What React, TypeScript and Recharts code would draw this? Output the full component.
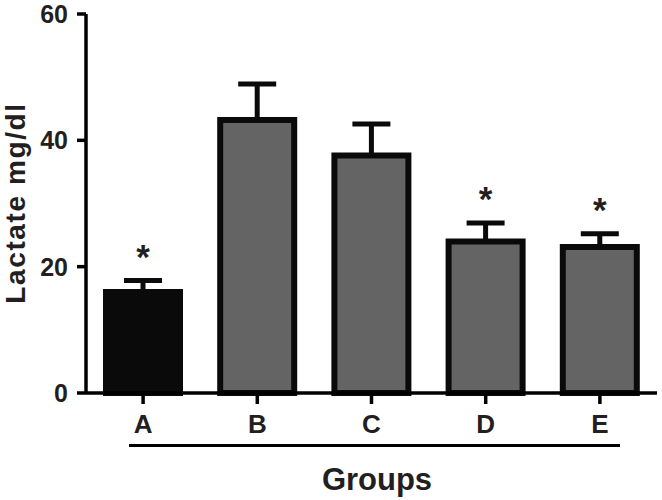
import { Bar, BarChart, Cell, ErrorBar, LabelList, XAxis, YAxis } from 'recharts'

const groups = ['A', 'B', 'C', 'D', 'E']
const lactate = [16.0, 43.2, 37.6, 24.0, 23.1]
const sem = [1.8, 5.7, 5.0, 2.9, 2.1]
const stars = ['*', '', '', '*', '*']
const fills = ['#0a0a0a', '#646464', '#646464', '#646464', '#646464']
const yTicks = [0, 20, 40, 60]

const data = groups.map((group, i) => ({
  group,
  lactate: lactate[i],
  err: [0, sem[i]],
  star: stars[i],
  sem: sem[i],
}))

const font = '"Liberation Sans", Arial, sans-serif'
const ink = '#231f20'

function StarLabel(props: any) {
  const { x, y, width, height, index } = props
  const row = data[index]
  if (!row || !row.star) return null
  const perUnit = height / row.lactate
  const capY = y - row.sem * perUnit
  // star centre sits ~32px above the cap
  return (
    <text
      x={x + width / 2}
      y={capY - 32 + 20}
      textAnchor="middle"
      fontFamily={font}
      fontWeight="bold"
      fontSize={35}
      fill={ink}
    >
      {row.star}
    </text>
  )
}

function YTitle() {
  return (
    <text
      x={25}
      y={203}
      transform="rotate(-90 25 203)"
      textAnchor="middle"
      fontFamily={font}
      fontWeight="bold"
      fontSize={28}
      letterSpacing={1.6}
      fill={ink}
    >
      Lactate mg/dl
    </text>
  )
}

function XTitle() {
  return (
    <g>
      <line x1={129} x2={620} y1={445.5} y2={445.5} stroke="#000" strokeWidth={3} />
      <text
        x={377}
        y={490}
        textAnchor="middle"
        fontFamily={font}
        fontWeight="bold"
        fontSize={31}
        fill={ink}
      >
        Groups
      </text>
    </g>
  )
}

export default function App() {
  return (
    <div style={{ position: 'absolute', left: 0, top: 0, width: 662, height: 500, background: '#fff' }}>
      <BarChart
        width={662}
        height={500}
        data={data}
        margin={{ top: 14, right: 5, left: 0, bottom: 0 }}
        barCategoryGap={0}
      >
        <XAxis
          dataKey="group"
          height={107}
          stroke="#000"
          axisLine={{ strokeWidth: 3.5 }}
          tickLine={{ strokeWidth: 3.5 }}
          tickSize={11}
          tickMargin={11}
          tick={{ fill: ink, fontFamily: font, fontWeight: 'bold', fontSize: 26 }}
          label={<XTitle />}
        />
        <YAxis
          domain={[0, 60]}
          ticks={yTicks}
          width={86}
          stroke="#000"
          axisLine={{ strokeWidth: 3.5 }}
          tickLine={{ strokeWidth: 3.5 }}
          tickSize={9}
          tickMargin={9}
          tick={{ fill: ink, fontFamily: font, fontWeight: 'bold', fontSize: 25 }}
          label={<YTitle />}
        />
        <Bar dataKey="lactate" barSize={74} stroke="#0a0a0a" strokeWidth={6} isAnimationActive={false}>
          {data.map((row, i) => (
            <Cell key={row.group} fill={fills[i]} />
          ))}
          <ErrorBar dataKey="err" width={19} stroke="#0a0a0a" strokeWidth={5} direction="y" />
          <LabelList dataKey="star" content={<StarLabel />} />
        </Bar>
      </BarChart>
    </div>
  )
}
